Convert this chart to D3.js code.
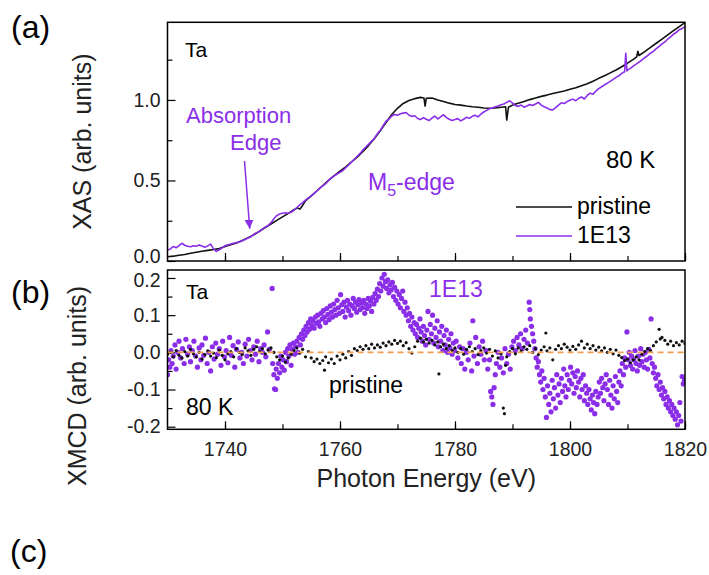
<!DOCTYPE html>
<html lang="en">
<head>
<meta charset="UTF-8">
<title>Ta XAS / XMCD</title>
<script src="https://cdnjs.cloudflare.com/ajax/libs/d3/7.8.5/d3.min.js"></script>
<style>
    body { margin: 0; background: #fff; }
    text { font-family: "Liberation Sans", Arial, sans-serif; }
    .frame { fill: none; stroke: #000; stroke-width: 1.5px; }
    .axis path { display: none; }
    .axis line { stroke: #000; stroke-width: 1.2px; }
    .axis text { font-size: 19.5px; fill: #222; }
</style>
</head>
<body>
<div id="chart"></div>
<script>

// ---- data ----
var purple = "#8b2ee8";
var energyTicks = [1740, 1760, 1780, 1800, 1820];
var energyMinor = [1740, 1750, 1760, 1770, 1780, 1790, 1800, 1810, 1820];
var xasTicks = [0.0, 0.5, 1.0];
var xasMinor = [0.25, 0.75, 1.25];
var xmcdTicks = [-0.2, -0.1, 0.0, 0.1, 0.2];
var xmcdMinor = [-0.15, -0.05, 0.05, 0.15];

// XAS, pristine sample (black line)
var xasPristine = [
    [1730,.026],[1731,.030],[1732,.036],[1733,.040],[1734,.048],[1735,.054],[1736,.060],[1737,.066],
    [1738,.071],[1739,.077],[1740,.090],[1741,.101],[1742,.112],[1743,.127],[1744,.144],[1745,.162],
    [1746,.185],[1747,.208],[1748,.230],[1749,.252],[1750,.274],[1751,.296],[1752,.318],[1752.6,.330],
    [1753,.322],[1753.5,.345],[1754,.373],[1755,.404],[1756,.436],[1757,.468],[1758,.500],[1759,.530],
    [1760,.558],[1761,.585],[1762,.615],[1763,.645],[1764,.680],[1765,.718],[1766,.760],[1767,.808],
    [1768,.860],[1769,.910],[1770,.948],[1771,.978],[1772,.996],[1773,1.008],[1774,1.016],[1774.6,1.012],
    [1774.8,.962],[1775,1.010],[1776,1.012],[1777,1.000],[1778,.990],[1779,.980],[1780,.972],[1781,.968],
    [1782,.962],[1783,.958],[1784,.955],[1785,.950],[1786,.948],[1787,.950],[1788,.955],[1788.8,.958],
    [1789,.875],[1789.3,.955],[1790,.968],[1791,.980],[1792,.990],[1793,1.002],[1794,1.012],[1795,1.022],
    [1796,1.030],[1797,1.040],[1798,1.048],[1799,1.056],[1800,1.066],[1801,1.076],[1802,1.088],[1803,1.100],
    [1804,1.116],[1805,1.134],[1806,1.150],[1807,1.168],[1808,1.186],[1809,1.206],[1810,1.228],[1811,1.252],
    [1811.6,1.268],[1811.8,1.302],[1812,1.276],[1813,1.300],[1814,1.326],[1815,1.352],[1816,1.378],
    [1817,1.404],[1818,1.430],[1819,1.455],[1820,1.480]
];

// XAS, 1E13 sample (purple line)
var xas1E13 = [
    [1730,.068],[1730.5,.075],[1731,.090],[1731.5,.082],[1732,.095],[1732.5,.110],[1733,.098],[1733.5,.092],
    [1734,.088],[1734.5,.095],[1735,.092],[1735.5,.100],[1736,.093],[1736.5,.086],[1737,.094],[1737.5,.105],
    [1738,.075],[1738.5,.060],[1739,.070],[1739.5,.082],[1740,.095],[1740.5,.100],[1741,.106],[1741.5,.110],
    [1742,.114],[1742.5,.118],[1743,.126],[1743.5,.134],[1744,.143],[1744.5,.150],[1745,.166],[1745.5,.176],
    [1746,.184],[1746.5,.198],[1747,.210],[1747.5,.220],[1748,.238],[1748.5,.262],[1749,.282],[1749.5,.292],
    [1750,.296],[1750.5,.300],[1751,.296],[1751.5,.302],[1752,.316],[1752.5,.332],[1753,.348],[1753.5,.362],
    [1754,.378],[1754.5,.392],[1755,.404],[1755.5,.418],[1756,.436],[1756.5,.452],[1757,.466],[1757.5,.480],
    [1758,.500],[1758.5,.516],[1759,.528],[1759.5,.540],[1760,.550],[1760.5,.562],[1761,.580],[1761.5,.596],
    [1762,.614],[1762.5,.632],[1763,.650],[1763.5,.668],[1764,.690],[1764.5,.708],[1765,.726],[1765.5,.744],
    [1766,.764],[1766.5,.790],[1767,.812],[1767.5,.840],[1768,.868],[1768.5,.880],[1769,.900],[1769.5,.910],
    [1770,.905],[1770.5,.914],[1771,.918],[1771.5,.922],[1772,.905],[1772.5,.898],[1773,.902],[1773.5,.885],
    [1774,.878],[1774.5,.890],[1775,.880],[1775.5,.872],[1776,.888],[1776.5,.900],[1777,.882],[1777.5,.895],
    [1778,.908],[1778.5,.890],[1779,.880],[1779.5,.872],[1780,.878],[1780.5,.884],[1781,.870],[1781.5,.880],
    [1782,.892],[1782.5,.886],[1783,.898],[1783.5,.905],[1784,.895],[1784.5,.912],[1785,.925],[1785.5,.935],
    [1786,.945],[1786.5,.950],[1787,.958],[1787.5,.962],[1788,.970],[1788.5,.975],[1789,.985],[1789.5,.995],
    [1790,.980],[1790.5,.965],[1791,.960],[1791.5,.968],[1792,.955],[1792.5,.962],[1793,.972],[1793.5,.965],
    [1794,.975],[1794.5,.985],[1795,.968],[1795.5,.958],[1796,.950],[1796.5,.940],[1797,.938],[1797.5,.952],
    [1798,.968],[1798.5,.982],[1799,.978],[1799.5,.990],[1800,.998],[1800.5,1.005],[1801,.995],[1801.5,1.010],
    [1802,1.018],[1802.5,1.006],[1803,1.028],[1803.5,1.042],[1804,1.036],[1804.5,1.055],[1805,1.070],
    [1805.5,1.082],[1806,1.094],[1806.5,1.104],[1807,1.115],[1807.5,1.128],[1808,1.140],[1808.5,1.150],
    [1809,1.165],[1809.5,1.175],[1809.7,1.290],[1809.9,1.180],[1810,1.185],[1810.5,1.196],[1811,1.210],
    [1811.5,1.222],[1812,1.235],[1812.5,1.248],[1813,1.262],[1813.5,1.275],[1814,1.290],[1814.5,1.302],
    [1815,1.318],[1815.5,1.332],[1816,1.348],[1816.5,1.360],[1817,1.378],[1817.5,1.392],[1818,1.408],
    [1818.5,1.420],[1819,1.436],[1819.5,1.444],[1820,1.455]
];

// XMCD, 1E13 sample (purple dots)
var xmcd1E13 = [
    [1730.0,-.060],[1730.2,-.020],[1730.4,-.040],[1730.6,.005],[1730.8,-.030],[1731.0,-.010],[1731.3,.020],
    [1731.5,-.045],[1731.8,.000],[1732.0,.030],[1732.3,-.015],[1732.6,.010],[1732.9,-.030],[1733.2,.035],
    [1733.5,-.005],[1733.8,.015],[1734.0,-.025],[1734.3,.005],[1734.6,.030],[1734.9,-.010],[1735.2,-.040],
    [1735.5,.012],[1735.8,-.020],[1736.0,.020],[1736.3,-.008],[1736.6,.038],[1736.9,-.030],[1737.2,.000],
    [1737.5,-.050],[1737.8,.015],[1738.1,-.018],[1738.4,.025],[1738.7,-.005],[1739.0,.010],[1739.3,-.035],
    [1739.6,.030],[1739.9,-.012],[1740.2,.005],[1740.5,-.028],[1740.8,.040],[1741.1,-.008],[1741.4,.018],
    [1741.7,-.040],[1742.0,.008],[1742.3,.028],[1742.6,-.015],[1742.9,.000],[1743.2,-.030],[1743.5,.022],
    [1743.8,-.010],[1744.1,.035],[1744.4,.005],[1744.7,-.020],[1745.0,.015],[1745.3,-.005],[1745.6,.030],
    [1745.9,-.025],[1746.2,.010],[1746.5,.000],[1746.8,.020],[1747.1,-.012],[1747.4,.055],[1747.7,.008],
    [1748.2,.172],[1748.3,-.030],[1748.5,-.060],[1748.6,-.098],[1748.8,-.100],[1748.9,-.045],[1749.1,-.070],
    [1749.3,-.030],[1749.5,-.055],[1749.7,-.010],[1749.9,-.040],[1750.1,-.020],[1750.3,-.048],[1750.5,.000],
    [1750.7,-.025],[1750.9,.010],[1751.1,-.010],[1751.3,.020],[1751.5,-.035],[1751.7,.008],[1751.9,.025],
    [1752.1,-.005],[1752.3,.015],[1752.5,.030],[1752.7,.000],[1752.9,.040],[1753.1,.020],[1753.3,.050],
    [1753.5,.035],[1753.7,.060],[1753.9,.045],[1754.1,.070],[1754.3,.055],[1754.5,.080],[1754.7,.062],
    [1754.9,.090],[1755.1,.072],[1755.3,.085],[1755.5,.065],[1755.7,.095],[1755.9,.078],[1756.1,.100],
    [1756.3,.082],[1756.5,.070],[1756.7,.105],[1756.9,.090],[1757.1,.112],[1757.3,.095],[1757.5,.080],
    [1757.7,.118],[1757.9,.102],[1758.1,.088],[1758.3,.125],[1758.5,.108],[1758.7,.095],[1758.9,.130],
    [1759.1,.115],[1759.3,.100],[1759.5,.140],[1759.7,.120],[1759.9,.105],[1760.1,.155],[1760.3,.128],
    [1760.5,.110],[1760.7,.135],[1760.9,.095],[1761.1,.122],[1761.3,.140],[1761.5,.112],[1761.7,.130],
    [1761.9,.100],[1762.1,.125],[1762.3,.145],[1762.5,.118],[1762.7,.135],[1762.9,.108],[1763.1,.128],
    [1763.3,.142],[1763.5,.115],[1763.7,.132],[1763.9,.120],[1764.1,.140],[1764.3,.105],[1764.5,.130],
    [1764.7,.118],[1764.9,.145],[1765.1,.125],[1765.3,.138],[1765.5,.110],[1765.7,.148],[1765.9,.130],
    [1766.1,.158],[1766.3,.140],[1766.5,.170],[1766.7,.150],[1766.9,.185],[1767.1,.165],[1767.3,.200],
    [1767.5,.178],[1767.7,.210],[1767.9,.190],[1768.1,.172],[1768.3,.195],[1768.5,.160],[1768.7,.182],
    [1768.9,.168],[1769.1,.188],[1769.3,.150],[1769.5,.175],[1769.7,.140],[1769.9,.165],[1770.1,.130],
    [1770.3,.155],[1770.5,.120],[1770.7,.145],[1770.9,.165],[1771.1,.110],[1771.3,.135],[1771.5,.100],
    [1771.7,.120],[1771.9,.085],[1772.1,.105],[1772.3,.070],[1772.5,.095],[1772.7,.060],[1772.9,.080],
    [1773.1,.050],[1773.3,.075],[1773.5,.040],[1773.7,.065],[1773.9,.090],[1774.1,.055],[1774.3,.030],
    [1774.5,.070],[1774.7,.045],[1774.9,.020],[1775.1,.060],[1775.3,.110],[1775.5,.035],[1775.7,.075],
    [1775.9,.050],[1776.1,.100],[1776.3,.025],[1776.5,.065],[1776.7,.040],[1776.9,.085],[1777.1,.015],
    [1777.3,.055],[1777.5,.030],[1777.7,.070],[1777.9,.005],[1778.1,.045],[1778.3,.020],[1778.5,.060],
    [1778.7,.000],[1778.9,.035],[1779.1,.012],[1779.3,.050],[1779.5,-.005],[1779.7,.025],[1779.9,.005],
    [1780.2,.030],[1780.5,-.015],[1780.8,.015],[1781.1,-.030],[1781.4,.010],[1781.7,-.045],[1782.0,.000],
    [1782.3,-.020],[1782.6,.025],[1782.9,-.050],[1783.1,.085],[1783.3,-.010],[1783.6,.040],[1783.9,-.030],
    [1784.2,.015],[1784.5,-.005],[1784.8,.030],[1785.1,-.020],[1785.4,.005],[1785.7,-.045],[1786.0,-.020],
    [1786.2,-.105],[1786.4,-.120],[1786.6,-.140],[1786.8,-.095],[1787.0,-.060],[1787.2,-.030],[1787.5,.000],
    [1787.8,-.040],[1788.1,-.015],[1788.4,-.055],[1788.7,.010],[1789.0,-.030],[1789.3,-.005],[1789.6,-.045],
    [1789.9,.015],[1790.2,.030],[1790.5,.005],[1790.8,.040],[1791.1,.020],[1791.4,.050],[1791.7,.010],
    [1792.0,.035],[1792.3,.060],[1792.6,.025],[1792.9,.135],[1793.0,.115],[1793.1,.090],[1793.3,.070],
    [1793.5,.050],[1793.7,.030],[1793.9,.010],[1794.1,-.015],[1794.3,-.040],[1794.5,-.025],[1794.7,-.060],
    [1794.9,-.080],[1795.1,-.050],[1795.3,-.100],[1795.5,-.070],[1795.7,-.120],[1795.9,-.175],[1796.1,-.090],
    [1796.3,-.140],[1796.5,-.110],[1796.7,-.160],[1796.9,-.075],[1797.1,-.125],[1797.3,-.095],[1797.5,-.150],
    [1797.7,-.060],[1797.9,-.115],[1798.1,-.085],[1798.3,-.135],[1798.5,-.070],[1798.7,-.105],[1798.9,-.045],
    [1799.1,-.090],[1799.3,-.120],[1799.5,-.060],[1799.7,-.100],[1799.9,-.075],[1800.1,-.040],[1800.3,-.085],
    [1800.5,-.055],[1800.7,-.110],[1800.9,-.065],[1801.1,-.095],[1801.3,-.050],[1801.5,-.080],[1801.7,-.120],
    [1801.9,-.070],[1802.1,-.100],[1802.3,-.060],[1802.5,-.130],[1802.7,-.090],[1802.9,-.110],[1803.1,-.140],
    [1803.3,-.100],[1803.5,-.125],[1803.7,-.155],[1803.9,-.115],[1804.1,-.135],[1804.3,-.165],[1804.5,-.105],
    [1804.7,-.140],[1804.9,-.120],[1805.1,-.080],[1805.3,-.110],[1805.5,-.070],[1805.7,-.095],[1805.9,-.130],
    [1806.1,-.085],[1806.3,-.060],[1806.5,-.100],[1806.7,-.140],[1806.9,-.075],[1807.1,-.115],[1807.3,-.150],
    [1807.5,-.090],[1807.7,-.125],[1807.9,-.065],[1808.1,-.105],[1808.3,-.135],[1808.5,-.080],[1808.7,-.050],
    [1808.9,-.090],[1809.1,-.030],[1809.3,-.060],[1809.5,-.015],[1809.7,-.040],[1809.9,.055],[1810.1,-.020],
    [1810.3,.000],[1810.5,-.035],[1810.7,-.010],[1810.9,-.045],[1811.1,-.020],[1811.3,.005],[1811.5,-.030],
    [1811.7,-.050],[1811.9,-.010],[1812.1,-.035],[1812.3,.010],[1812.5,-.025],[1812.7,-.005],[1812.9,-.040],
    [1813.1,.000],[1813.3,-.020],[1813.5,-.045],[1813.7,.008],[1813.9,-.015],[1814.1,.090],[1814.3,-.030],
    [1814.5,-.055],[1814.7,-.040],[1814.9,-.070],[1815.1,-.090],[1815.3,-.060],[1815.5,-.100],[1815.7,-.080],
    [1815.9,-.115],[1816.1,-.095],[1816.3,-.125],[1816.5,-.105],[1816.7,-.140],[1816.9,-.120],[1817.1,-.150],
    [1817.3,-.130],[1817.5,-.160],[1817.7,-.140],[1817.9,-.170],[1818.1,-.150],[1818.3,-.180],[1818.5,-.160],
    [1818.7,-.195],[1818.9,-.170],[1819.1,-.135],[1819.3,-.185],[1819.5,-.065],[1819.7,-.085],[1819.9,-.075]
];

// XMCD, pristine sample (small black dots)
var xmcdPristine = [
    [1730.0,-.005],[1730.5,.000],[1731.0,-.012],[1731.5,.005],[1732.0,-.008],[1732.5,-.015],[1733.0,.002],
    [1733.5,-.010],[1734.0,.008],[1734.5,-.004],[1735.0,-.012],[1735.5,.000],[1736.0,-.018],[1736.5,-.006],
    [1737.0,.004],[1737.5,-.010],[1738.0,-.002],[1738.5,-.014],[1739.0,.006],[1739.5,-.008],[1740.0,-.020],
    [1740.5,-.004],[1741.0,.002],[1741.5,-.012],[1742.0,.010],[1742.5,.000],[1743.0,-.006],[1743.5,.012],
    [1744.0,.004],[1744.5,-.008],[1745.0,.008],[1745.5,.015],[1746.0,.002],[1746.5,.010],[1747.0,-.004],
    [1747.5,.006],[1748.0,.012],[1748.5,.000],[1749.0,-.012],[1749.5,-.020],[1750.0,-.010],[1750.5,-.026],
    [1751.0,-.015],[1751.5,-.005],[1752.0,.005],[1752.5,.012],[1753.0,-.002],[1753.5,.008],[1754.0,-.012],
    [1754.5,.002],[1755.0,-.015],[1755.5,-.025],[1756.0,-.018],[1756.5,-.030],[1757.0,-.022],[1757.3,-.048],
    [1757.5,-.012],[1758.0,-.028],[1758.5,-.018],[1759.0,-.030],[1759.5,-.010],[1760.0,-.020],[1760.5,-.005],
    [1761.0,-.015],[1761.5,.002],[1762.0,-.008],[1762.5,.010],[1763.0,.005],[1763.5,.015],[1764.0,.008],
    [1764.5,.018],[1765.0,.010],[1765.5,.022],[1766.0,.012],[1766.5,.020],[1767.0,.014],[1767.5,.025],
    [1768.0,.018],[1768.5,.028],[1769.0,.022],[1769.5,.032],[1770.0,.024],[1770.5,.030],[1771.0,.018],
    [1771.5,.026],[1772.0,.010],[1772.5,-.002],[1773.0,.015],[1773.5,.030],[1774.0,.038],[1774.5,.028],
    [1775.0,.035],[1775.5,.025],[1776.0,.032],[1776.5,.020],[1777.0,.028],[1777.2,-.058],[1777.5,.015],
    [1778.0,.022],[1778.5,.010],[1779.0,.018],[1779.5,.005],[1780.0,.012],[1780.5,.000],[1781.0,.010],
    [1781.5,-.005],[1782.0,.008],[1782.5,.015],[1783.0,.002],[1783.5,.010],[1784.0,-.006],[1784.5,.005],
    [1785.0,.012],[1785.5,-.002],[1786.0,.008],[1786.5,-.010],[1787.0,.004],[1787.5,-.015],[1788.0,-.004],
    [1788.4,-.150],[1788.6,-.165],[1788.8,-.035],[1789.0,-.012],[1789.5,.002],[1790.0,.010],[1790.5,-.004],
    [1791.0,.012],[1791.5,.004],[1792.0,.015],[1792.5,.008],[1793.0,.018],[1793.5,.000],[1794.0,.010],
    [1794.5,-.006],[1795.0,.006],[1795.5,.015],[1795.8,.052],[1796.0,.004],[1796.5,.012],[1797.0,-.020],
    [1797.5,.008],[1798.0,.018],[1798.5,.010],[1799.0,.022],[1799.5,.014],[1800.0,.006],[1800.5,.016],
    [1801.0,.008],[1801.5,.020],[1802.0,.030],[1802.5,.012],[1803.0,.022],[1803.5,.010],[1804.0,.018],
    [1804.5,.006],[1805.0,.014],[1805.5,.004],[1806.0,.012],[1806.5,.000],[1807.0,.008],[1807.5,-.004],
    [1808.0,.006],[1808.5,-.008],[1809.0,-.014],[1809.5,-.022],[1810.0,-.018],[1810.5,-.028],[1811.0,-.020],
    [1811.5,-.012],[1812.0,-.020],[1812.5,-.005],[1813.0,.002],[1813.5,.010],[1814.0,.005],[1814.5,.018],
    [1815.0,.028],[1815.5,.062],[1815.7,.036],[1816.0,.040],[1816.5,.032],[1817.0,.022],[1817.5,.030],
    [1818.0,.018],[1818.5,.026],[1819.0,.020],[1819.5,.030],[1820.0,.024]
];

// ---- layout ----
var W = 709, H = 575;
var left = 167.5, right = 685;
var topA = 22.3, botA = 261;
var topB = 270, botB = 429.3;

var svg = d3.select("#chart").append("svg")
    .attr("width", W)
    .attr("height", H);

var x = d3.scaleLinear().domain([1730, 1820]).range([left, right]);
var yA = d3.scaleLinear().domain([0, 1.482]).range([botA, topA]);
var yB = d3.scaleLinear().domain([-0.207, 0.2215]).range([botB, topB]);

var defs = svg.append("defs");
defs.append("clipPath").attr("id", "clipA").append("rect")
    .attr("x", left).attr("y", topA).attr("width", right - left).attr("height", botA - topA);
defs.append("clipPath").attr("id", "clipB").append("rect")
    .attr("x", left).attr("y", topB).attr("width", right - left).attr("height", botB - topB);
defs.append("marker")
    .attr("id", "arrow")
    .attr("viewBox", "0 0 10 10")
    .attr("refX", 10).attr("refY", 5)
    .attr("markerWidth", 9).attr("markerHeight", 9)
    .attr("markerUnits", "userSpaceOnUse")
    .attr("orient", "auto")
    .append("path")
    .attr("d", "M0,0 L10,5 L0,10 Z")
    .attr("fill", purple);

var fmt = function(d) { return d.toFixed(1); };

// ---- panel (a): XAS ----
var gA = svg.append("g");

gA.append("g").attr("class", "axis")
    .attr("transform", "translate(" + left + ",0)")
    .call(d3.axisLeft(yA).tickValues(xasMinor).tickSize(-5).tickFormat(""));
var yAxisA = gA.append("g").attr("class", "axis")
    .attr("transform", "translate(" + left + ",0)")
    .call(d3.axisLeft(yA).tickValues(xasTicks).tickSize(-8).tickPadding(7).tickFormat(fmt));
// the bottom "0.0" sits a little high in the original, clear of the "0.2" below it
yAxisA.selectAll(".tick text").filter(function(d) { return d === 0; }).attr("y", -5);
gA.append("g").attr("class", "axis")
    .attr("transform", "translate(0," + botA + ")")
    .call(d3.axisBottom(x).tickValues(energyMinor).tickSize(-5).tickFormat(""));
gA.append("g").attr("class", "axis")
    .attr("transform", "translate(0," + botA + ")")
    .call(d3.axisBottom(x).tickValues(energyTicks).tickSize(-8).tickFormat(""));

var line = d3.line()
    .x(function(d) { return x(d[0]); })
    .y(function(d) { return yA(d[1]); });

var curves = gA.append("g").attr("clip-path", "url(#clipA)");
curves.append("path")
    .datum(xasPristine)
    .attr("fill", "none")
    .attr("stroke", "#111")
    .attr("stroke-width", 1.6)
    .attr("stroke-linejoin", "round")
    .attr("d", line);
curves.append("path")
    .datum(xas1E13)
    .attr("fill", "none")
    .attr("stroke", purple)
    .attr("stroke-width", 1.6)
    .attr("stroke-linejoin", "round")
    .attr("d", line);

gA.append("rect").attr("class", "frame")
    .attr("x", left).attr("y", topA)
    .attr("width", right - left).attr("height", botA - topA);

gA.append("text").attr("x", 185).attr("y", 57)
    .style("font-size", "21px").text("Ta");
gA.append("text").attr("x", 186).attr("y", 123)
    .style("font-size", "22px").style("fill", purple).text("Absorption");
gA.append("text").attr("x", 230).attr("y", 150)
    .style("font-size", "22px").style("fill", purple).text("Edge");
gA.append("line")
    .attr("x1", 244.5).attr("y1", 161)
    .attr("x2", x(1744.3)).attr("y2", yA(0.2))
    .attr("stroke", purple).attr("stroke-width", 1.5)
    .attr("marker-end", "url(#arrow)");

var m5 = gA.append("text").attr("x", 368).attr("y", 190)
    .style("font-size", "23px").style("fill", purple);
m5.append("tspan").text("M");
m5.append("tspan").attr("dy", 6).style("font-size", "16px").text("5");
m5.append("tspan").attr("dy", -6).text("-edge");

gA.append("text").attr("x", 606).attr("y", 168)
    .style("font-size", "24px").text("80 K");

// legend
var legend = [
    {label: "pristine", color: "#111", y: 207},
    {label: "1E13", color: purple, y: 236}
];
legend.forEach(function(d) {
    gA.append("line")
        .attr("x1", 516).attr("x2", 572)
        .attr("y1", d.y).attr("y2", d.y)
        .attr("stroke", d.color).attr("stroke-width", 1.6);
    gA.append("text")
        .attr("x", 577).attr("y", d.y + 7)
        .style("font-size", "23px")
        .text(d.label);
});

// ---- panel (b): XMCD ----
var gB = svg.append("g");

gB.append("g").attr("class", "axis")
    .attr("transform", "translate(" + left + ",0)")
    .call(d3.axisLeft(yB).tickValues(xmcdMinor).tickSize(-5).tickFormat(""));
var yAxisB = gB.append("g").attr("class", "axis")
    .attr("transform", "translate(" + left + ",0)")
    .call(d3.axisLeft(yB).tickValues(xmcdTicks).tickSize(-8).tickPadding(7).tickFormat(fmt));
yAxisB.selectAll(".tick text").filter(function(d) { return d === 0.2; }).attr("y", 2);
gB.append("g").attr("class", "axis")
    .attr("transform", "translate(0," + botB + ")")
    .call(d3.axisBottom(x).tickValues(energyMinor).tickSize(-5).tickFormat(""));
gB.append("g").attr("class", "axis")
    .attr("transform", "translate(0," + botB + ")")
    .call(d3.axisBottom(x).tickValues(energyTicks).tickSize(-8).tickPadding(13).tickFormat(d3.format("d")));

var dots = gB.append("g").attr("clip-path", "url(#clipB)");
dots.selectAll("circle.p1")
    .data(xmcd1E13)
    .enter().append("circle")
    .attr("class", "p1")
    .attr("cx", function(d) { return x(d[0]); })
    .attr("cy", function(d) { return yB(d[1]); })
    .attr("r", 2.6)
    .attr("fill", purple);
dots.selectAll("circle.p0")
    .data(xmcdPristine)
    .enter().append("circle")
    .attr("class", "p0")
    .attr("cx", function(d) { return x(d[0]); })
    .attr("cy", function(d) { return yB(d[1]); })
    .attr("r", 1.6)
    .attr("fill", "#111");
dots.append("line")
    .attr("x1", left).attr("x2", right)
    .attr("y1", yB(0)).attr("y2", yB(0))
    .attr("stroke", "#f0a050")
    .attr("stroke-width", 1.6)
    .attr("stroke-dasharray", "6,4");

gB.append("rect").attr("class", "frame")
    .attr("x", left).attr("y", topB)
    .attr("width", right - left).attr("height", botB - topB);

gB.append("text").attr("x", 186).attr("y", 299)
    .style("font-size", "21px").text("Ta");
gB.append("text").attr("x", 429).attr("y", 297)
    .style("font-size", "23px").style("fill", purple).text("1E13");
gB.append("text").attr("x", 329).attr("y", 393)
    .style("font-size", "23px").text("pristine");
gB.append("text").attr("x", 186).attr("y", 415)
    .style("font-size", "23px").text("80 K");

// ---- axis titles & panel letters ----
svg.append("text")
    .attr("transform", "translate(91," + ((topA + botA) / 2) + ") rotate(-90)")
    .attr("text-anchor", "middle")
    .style("font-size", "25px").style("fill", "#222")
    .text("XAS (arb. units)");
svg.append("text")
    .attr("transform", "translate(86,386) rotate(-90)")
    .attr("text-anchor", "middle")
    .style("font-size", "25px").style("fill", "#222")
    .text("XMCD (arb. units)");
svg.append("text")
    .attr("x", (left + right) / 2).attr("y", 487)
    .attr("text-anchor", "middle")
    .style("font-size", "25px").style("fill", "#222")
    .text("Photon Energy (eV)");

svg.append("text").attr("x", 11).attr("y", 38).style("font-size", "32px").text("(a)");
svg.append("text").attr("x", 11).attr("y", 303).style("font-size", "32px").text("(b)");
svg.append("text").attr("x", 10).attr("y", 562).style("font-size", "32px").text("(c)");

</script>
</body>
</html>
